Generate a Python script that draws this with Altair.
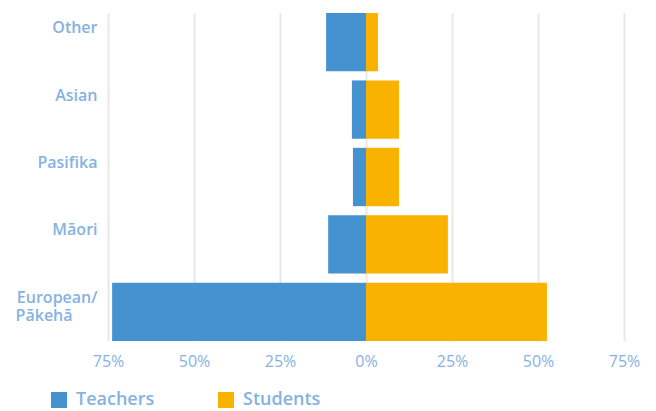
import altair as alt
import pandas as pd

categories = ["Other", "Asian", "Pasifika", "Māori", "European/ Pākehā"]
teachers = [11.6, 4.1, 3.8, 11.0, 73.8]
students = [3.5, 9.6, 9.6, 23.8, 52.6]
groups = ["Teachers", "Students"]
ticks = [-75, -50, -25, 0, 25, 50, 75]

rows = []
for c, t, s in zip(categories, teachers, students):
    rows.append({"category": c, "group": "Teachers", "value": -t})
    rows.append({"category": c, "group": "Students", "value": s})
df = pd.DataFrame(rows)

label_color = "#86B2E2"
font = "Open Sans"

chart = alt.Chart(df).mark_bar().encode(
    x=alt.X("value:Q",
            scale=alt.Scale(domain=[-75, 75], nice=False),
            axis=alt.Axis(values=ticks, title=None, labelExpr="abs(datum.value) + '%'",
                          domain=False, ticks=False, grid=True, gridColor="#e8e8e8",
                          gridWidth=2, labelPadding=12, labelFontSize=16,
                          labelColor=label_color, labelFont=font, labelFlush=False)),
    y=alt.Y("category:N", sort=categories,
            scale=alt.Scale(paddingInner=0.135, paddingOuter=0),
            axis=alt.Axis(title=None, domain=False, ticks=False, grid=False,
                          labelPadding=11, labelFontSize=16, labelColor=label_color,
                          labelFont=font, labelFontWeight=600, labelOffset=-14,
                          labelLineHeight=18,
                          labelExpr="datum.label == 'European/ Pākehā' ? ['European/', 'Pākehā\u00a0\u00a0\u00a0\u00a0\u00a0\u00a0\u200b'] : datum.label")),
    color=alt.Color("group:N",
                    scale=alt.Scale(domain=groups, range=["#4493D0", "#F9B200"]),
                    legend=alt.Legend(title=None, orient="none", legendX=-58, legendY=378,
                                      direction="horizontal", symbolType="square",
                                      symbolSize=256, symbolStrokeWidth=0, symbolOpacity=1,
                                      labelFontSize=18, labelColor=label_color, labelFont=font,
                                      labelFontWeight=600,
                                      columnPadding=62, labelOffset=8)),
).properties(
    width=516, height=328,
    autosize=alt.AutoSizeParams(type="none"),
    padding={"left": 100, "top": 5, "right": 24, "bottom": 75},
).configure_view(stroke=None)

chart.save("out.html", embed_options={"renderer": "svg", "actions": False})
